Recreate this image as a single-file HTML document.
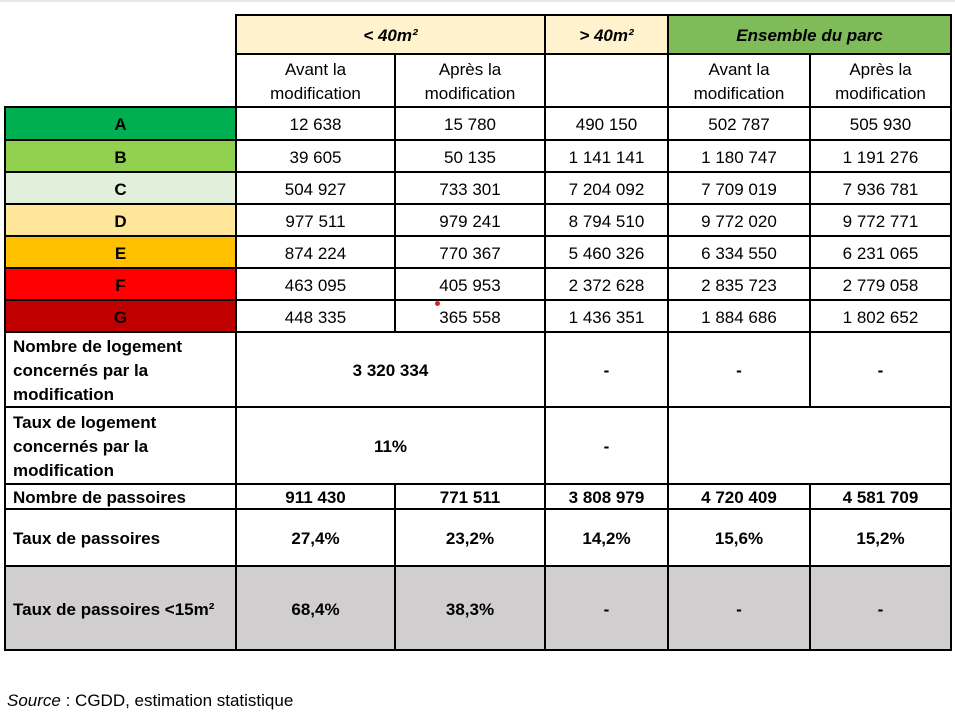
<!DOCTYPE html>
<html><head><meta charset="utf-8"><style>
body{margin:0;width:955px;height:720px;background:#fff;position:relative;overflow:hidden;font-family:"Liberation Sans",Carlito,sans-serif;}
.c{position:absolute;box-sizing:border-box;border:2px solid #000;display:flex;align-items:center;justify-content:center;text-align:center;font-size:17px;line-height:24px;color:#000;padding-top:3px;}
.b{font-weight:bold}
.l{justify-content:flex-start;text-align:left;padding-left:7px}
.i{font-style:italic;font-weight:bold}
</style></head><body>
<div id="t"></div>
<div style="position:absolute;left:7px;top:691px;font-size:17px;"><i>Source</i> : CGDD, estimation statistique</div>
<div style="position:absolute;left:435px;top:301px;width:5px;height:5px;border-radius:50%;background:#e02020"></div>
<div style="position:absolute;left:0;top:0;width:955px;height:2px;background:#e8e8e8"></div>
<script>
var X=[5,236,395,545,668,810,951];
var Y=[15,54,107,140,172,204,236,268,300,332,407,484,509,566,650];
var h='';
function cell(c0,c1,r0,r1,txt,cls,bg){
 var l=X[c0]-1,w=X[c1]-X[c0]+2,t=Y[r0]-1,hh=Y[r1]-Y[r0]+2;
 h+='<div class="c '+(cls||'')+'" style="left:'+l+'px;top:'+t+'px;width:'+w+'px;height:'+hh+'px;background:'+(bg||'#fff')+'">'+txt+'</div>';
}
cell(1,3,0,1,'&lt; 40m²','i','#fff2cc');
cell(3,4,0,1,'&gt; 40m²','i','#fff2cc');
cell(4,6,0,1,'Ensemble du parc','i','#80bb5a');
var av='Avant la<br>modification',ap='Après la<br>modification';
cell(1,2,1,2,av);cell(2,3,1,2,ap);cell(3,4,1,2,'');cell(4,5,1,2,av);cell(5,6,1,2,ap);
var rows=[
['A','#00b050',['12 638','15 780','490 150','502 787','505 930']],
['B','#92d050',['39 605','50 135','1 141 141','1 180 747','1 191 276']],
['C','#e2efda',['504 927','733 301','7 204 092','7 709 019','7 936 781']],
['D','#ffe699',['977 511','979 241','8 794 510','9 772 020','9 772 771']],
['E','#ffc000',['874 224','770 367','5 460 326','6 334 550','6 231 065']],
['F','#ff0000',['463 095','405 953','2 372 628','2 835 723','2 779 058']],
['G','#c00000',['448 335','365 558','1 436 351','1 884 686','1 802 652']]];
rows.forEach(function(r,i){
 cell(0,1,2+i,3+i,r[0],'b',r[1]);
 r[2].forEach(function(v,j){cell(1+j,2+j,2+i,3+i,v);});
});
cell(0,1,9,10,'Nombre de logement<br>concernés par la<br>modification','b l');
cell(1,3,9,10,'3 320 334','b');cell(3,4,9,10,'-','b');cell(4,5,9,10,'-','b');cell(5,6,9,10,'-','b');
cell(0,1,10,11,'Taux de logement<br>concernés par la<br>modification','b l');
cell(1,3,10,11,'11%','b');cell(3,4,10,11,'-','b');cell(4,6,10,11,'','b');
var a=['911 430','771 511','3 808 979','4 720 409','4 581 709'];
cell(0,1,11,12,'Nombre de passoires','b l');a.forEach(function(v,j){cell(1+j,2+j,11,12,v,'b');});
a=['27,4%','23,2%','14,2%','15,6%','15,2%'];
cell(0,1,12,13,'Taux de passoires','b l');a.forEach(function(v,j){cell(1+j,2+j,12,13,v,'b');});
a=['68,4%','38,3%','-','-','-'];
cell(0,1,13,14,'Taux de passoires &lt;15m²','b l','#d0cece');a.forEach(function(v,j){cell(1+j,2+j,13,14,v,'b','#d0cece');});
document.getElementById('t').innerHTML=h;
</script>
</body></html>
